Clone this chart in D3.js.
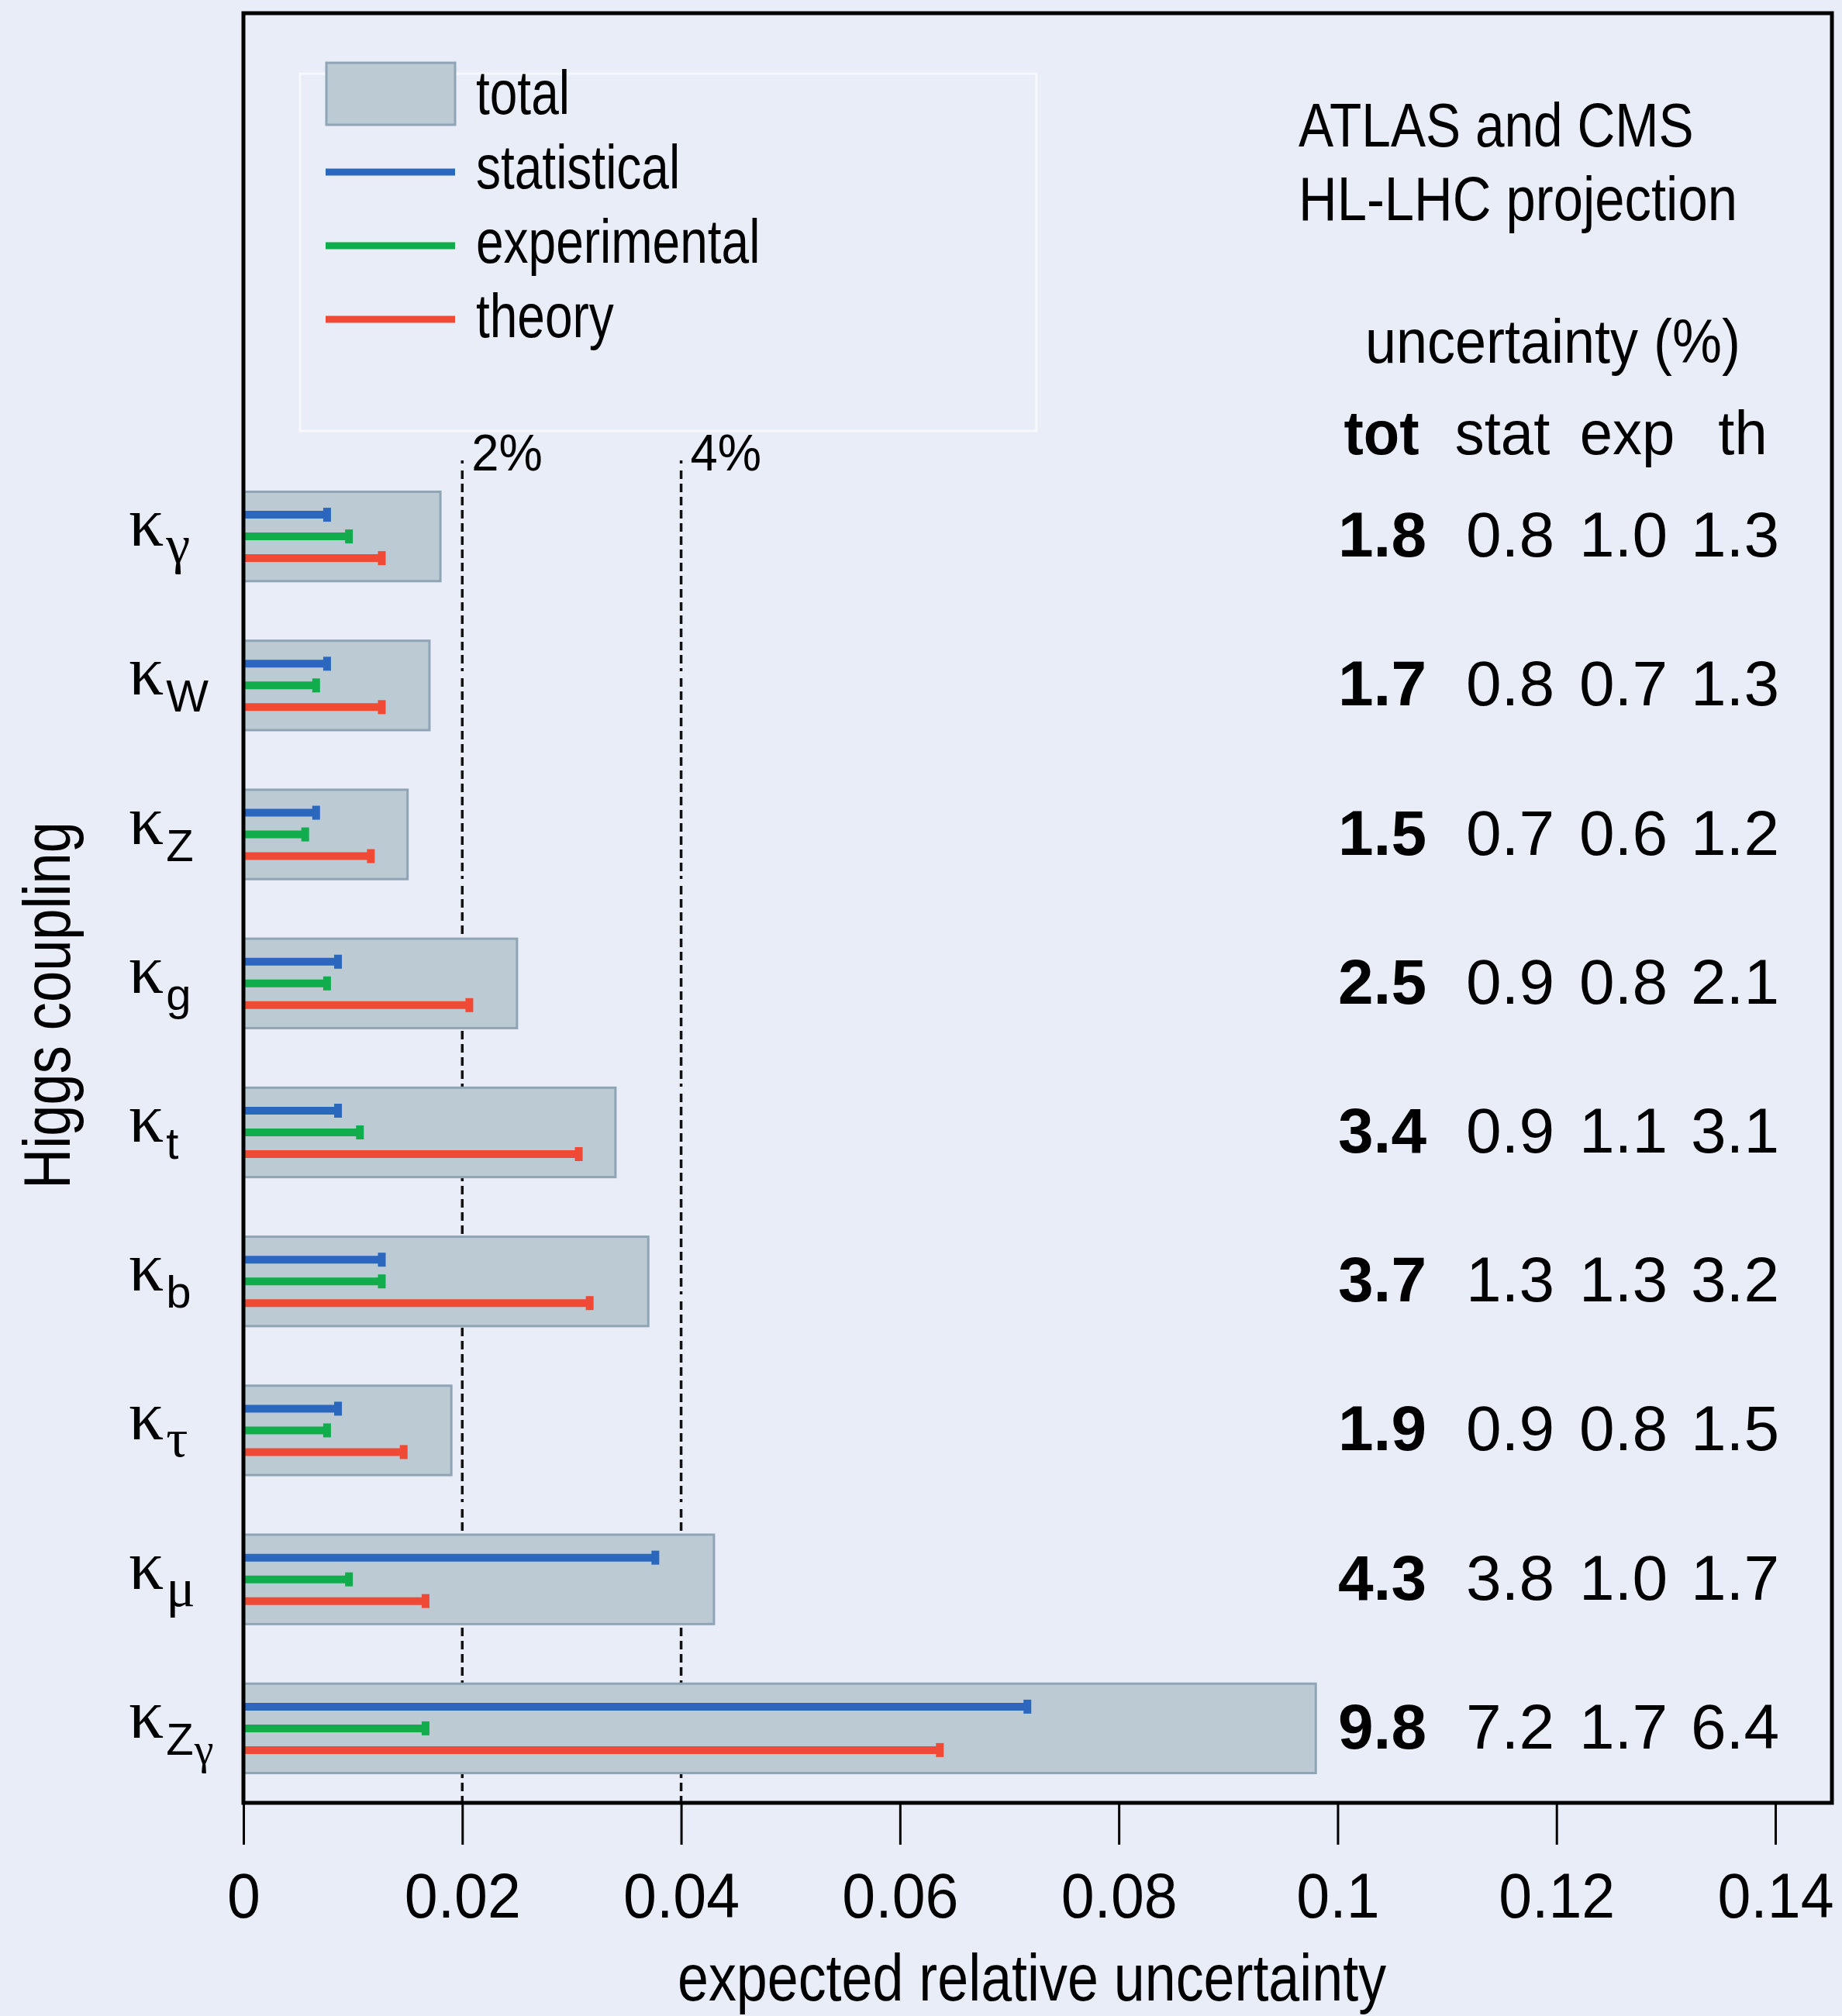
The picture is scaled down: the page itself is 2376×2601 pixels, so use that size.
<!DOCTYPE html>
<html>
<head>
<meta charset="utf-8">
<script src="https://cdn.jsdelivr.net/npm/d3@7"></script>
<style>
  body { margin: 0; background: #e9edf8; }
  svg { display: block; }
  .sans { font-family: "Liberation Sans", "DejaVu Sans", sans-serif; }
  .serif { font-family: "Liberation Serif", "DejaVu Serif", serif; }
</style>
</head>
<body>
<svg width="2376" height="2601"></svg>
<script>
// Higgs coupling uncertainty projections (values in %)
const couplings = ["γ", "W", "Z", "g", "t", "b", "τ", "μ", "Zγ"];
const totalUnc = [1.8, 1.7, 1.5, 2.5, 3.4, 3.7, 1.9, 4.3, 9.8];
const statUnc = [0.8, 0.8, 0.7, 0.9, 0.9, 1.3, 0.9, 3.8, 7.2];
const expUnc = [1.0, 0.7, 0.6, 0.8, 1.1, 1.3, 0.8, 1.0, 1.7];
const theoryUnc = [1.3, 1.3, 1.2, 2.1, 3.1, 3.2, 1.5, 1.7, 6.4];

const xTicks = [0, 0.02, 0.04, 0.06, 0.08, 0.1, 0.12, 0.14];
const refLines = [0.02, 0.04];
const refLabels = ["2%", "4%"];
const legendLabels = ["total", "statistical", "experimental", "theory"];
const tableHeader = ["tot", "stat", "exp", "th"];

const colors = {
    stat: "#2b67bd",
    exp: "#11ad4d",
    th: "#f04a37",
    barFill: "#bccad4",
    barStroke: "#8fa5b6"
};

const svg = d3.select("svg");

// The original uses a condensed sans face; squeeze Liberation Sans horizontally
function label(parent, x, y, str, size, sx, anchor) {
    return parent.append("text")
        .attr("class", "sans")
        .attr("transform", `translate(${x},${y}) scale(${sx},1)`)
        .attr("font-size", size)
        .attr("text-anchor", anchor || "start")
        .text(str);
}

// Plot frame
const plotLeft = 314, plotRight = 2363, plotTop = 17, plotBottom = 2326;

const x = d3.scaleLinear().domain([0, 0.14]).range([plotLeft, 2290]);
const y = d3.scaleBand()
    .domain(couplings)
    .range([596, plotBottom])
    .paddingInner(0.4)
    .paddingOuter(0.2);

// Dashed reference lines at 2% and 4%
refLines.forEach((v, i) => {
    svg.append("line")
        .attr("x1", x(v)).attr("x2", x(v))
        .attr("y1", 594).attr("y2", plotBottom)
        .attr("stroke", "#111")
        .attr("stroke-width", 3.5)
        .attr("stroke-dasharray", "4,9,11,6,11,6,11,6,11,6,11,6,11,6,11,6,11,6,11,6,11,6,11,6,11,6,11,6,11,6,11,6");
    label(svg, x(v) + 12, 607, refLabels[i], 66, 0.96);
});

// Total uncertainty bars
const rows = couplings.map((c, i) => ({
    name: c, tot: totalUnc[i], stat: statUnc[i], exp: expUnc[i], th: theoryUnc[i]
}));

svg.append("g").selectAll("rect")
    .data(rows)
    .join("rect")
    .attr("x", x(0))
    .attr("y", d => y(d.name))
    .attr("width", d => x(d.tot / 100) - x(0))
    .attr("height", y.bandwidth())
    .attr("fill", colors.barFill)
    .attr("stroke", colors.barStroke)
    .attr("stroke-width", 3);

// Component lines with end caps
const comps = [
    { key: "stat", off: -28, color: colors.stat },
    { key: "exp", off: 0, color: colors.exp },
    { key: "th", off: 28, color: colors.th }
];

comps.forEach(c => {
    const g = svg.append("g");
    g.selectAll("line")
        .data(rows)
        .join("line")
        .attr("x1", x(0))
        .attr("x2", d => x(d[c.key] / 100) - 2)
        .attr("y1", d => y(d.name) + y.bandwidth() / 2 + c.off)
        .attr("y2", d => y(d.name) + y.bandwidth() / 2 + c.off)
        .attr("stroke", c.color)
        .attr("stroke-width", 10);
    g.selectAll("rect")
        .data(rows)
        .join("rect")
        .attr("x", d => x(d[c.key] / 100) - 10)
        .attr("y", d => y(d.name) + y.bandwidth() / 2 + c.off - 9)
        .attr("width", 10)
        .attr("height", 18)
        .attr("fill", c.color);
});

// Frame and axis
svg.append("rect")
    .attr("x", plotLeft).attr("y", plotTop)
    .attr("width", plotRight - plotLeft).attr("height", plotBottom - plotTop)
    .attr("fill", "none")
    .attr("stroke", "#000")
    .attr("stroke-width", 5);

const xAxis = svg.append("g")
    .attr("transform", `translate(0,${plotBottom})`)
    .call(d3.axisBottom(x).tickValues(xTicks).tickSize(54).tickPadding(36)
        .tickFormat(d => d === 0 ? "0" : String(+d.toFixed(2))));
xAxis.select(".domain").remove();
xAxis.selectAll(".tick line").attr("stroke", "#000").attr("stroke-width", 3);
xAxis.selectAll(".tick text")
    .attr("class", "sans")
    .attr("font-size", 82)
    .attr("transform", "scale(0.94,1)")
    .attr("fill", "#000");

label(svg, 1331, 2581, "expected relative uncertainty", 86, 0.835, "middle");

svg.append("text")
    .attr("class", "sans")
    .attr("transform", "translate(90,1297) rotate(-90) scale(0.85,1)")
    .attr("text-anchor", "middle")
    .attr("font-size", 85)
    .text("Higgs coupling");

// Coupling labels: kappa with subscript
rows.forEach(d => {
    const cy = y(d.name) + y.bandwidth() / 2;
    const t = svg.append("text")
        .attr("x", 166)
        .attr("y", cy + 12)
        .attr("class", "serif")
        .attr("font-size", 90);
    t.append("tspan").text("κ");
    const greek = /[γτμ]/.test(d.name[0]);
    t.append("tspan")
        .attr("dx", 3)
        .attr("dy", 22)
        .attr("font-size", greek ? 70 : 58)
        .attr("font-family", greek ? null : "Liberation Sans, sans-serif")
        .text(d.name[0]);
    if (d.name.length > 1) {
        t.append("tspan")
            .attr("dx", 1)
            .attr("dy", 12)
            .attr("font-size", 56)
            .text(d.name.slice(1));
    }
});

// Legend
const legend = svg.append("g");
legend.append("rect")
    .attr("x", 387).attr("y", 95)
    .attr("width", 950).attr("height", 461)
    .attr("fill", "none")
    .attr("stroke", "#f7f8fc")
    .attr("stroke-width", 3);
legend.append("rect")
    .attr("x", 421).attr("y", 81)
    .attr("width", 166).attr("height", 80)
    .attr("fill", colors.barFill)
    .attr("stroke", colors.barStroke)
    .attr("stroke-width", 3);
[colors.stat, colors.exp, colors.th].forEach((c, i) => {
    legend.append("line")
        .attr("x1", 420).attr("x2", 587)
        .attr("y1", 222 + i * 95).attr("y2", 222 + i * 95)
        .attr("stroke", c)
        .attr("stroke-width", 9);
});
legendLabels.forEach((l, i) => {
    label(legend, 614, 147 + i * 96, l, 80, 0.8);
});

// Right-hand annotation and table
label(svg, 1675, 189, "ATLAS and CMS", 80, 0.845);
label(svg, 1675, 284, "HL-LHC projection", 80, 0.86);
label(svg, 2003, 468, "uncertainty (%)", 80, 0.9, "middle");

const headerX = [1782, 1938, 2099, 2248];
const colX = [1783, 1948, 2094, 2238];
tableHeader.forEach((h, i) => {
    label(svg, headerX[i], 586, h, 80, 0.95, "middle")
        .attr("font-weight", i === 0 ? "bold" : null);
});

const tableCols = [totalUnc, statUnc, expUnc, theoryUnc];
tableCols.forEach((vals, j) => {
    svg.append("g").selectAll("text")
        .data(vals)
        .join("text")
        .attr("class", "sans")
        .attr("x", colX[j])
        .attr("y", (v, i) => y(couplings[i]) + y.bandwidth() / 2 + 26)
        .attr("font-size", 82)
        .attr("text-anchor", "middle")
        .attr("font-weight", j === 0 ? "bold" : null)
        .text(v => v.toFixed(1));
});
</script>
</body>
</html>
